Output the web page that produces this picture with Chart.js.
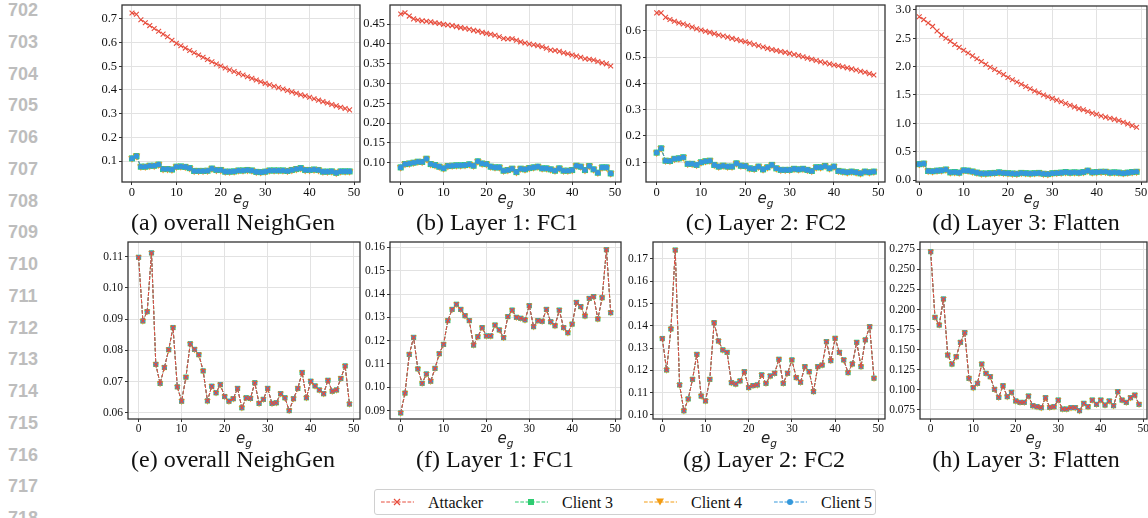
<!DOCTYPE html>
<html>
<head>
<meta charset="utf-8">
<script src="https://cdn.jsdelivr.net/npm/chart.js@4.4.1/dist/chart.umd.min.js"></script>
<style>
  body { margin: 0; width: 1148px; height: 518px; overflow: hidden; background: #fff; position: relative; font-family: "Liberation Serif", serif; }
  canvas { position: absolute; }
  .ln { position: absolute; left: 0; width: 46px; text-align: center; font: bold 18px "Liberation Sans", sans-serif; color: #bdbdbd; line-height: 20px; }
  .cap { position: absolute; font-size: 24px; color: #111; white-space: nowrap; transform: translateX(-50%); line-height: 26px; }
  .xl { position: absolute; font: italic 15px "DejaVu Sans", sans-serif; color: #222; transform: translateX(-50%); line-height: 16px; white-space: nowrap; }
  .xl sub { font-size: 10.5px; vertical-align: -4px; }
  #legend { position: absolute; left: 374px; top: 489px; width: 502px; height: 26px; border: 1px solid #d0d0d0; border-radius: 3px; box-sizing: border-box; }
  .li { position: absolute; top: 0; height: 26px; font-size: 16px; line-height: 26px; color: #111; white-space: nowrap; }
  .li svg { position: absolute; top: 7px; }
</style>
</head>
<body>
<div id="legend"></div>
<script>
// x axis
const xTickLabels = ['0', '10', '20', '30', '40', '50'];

// (a) overall NeighGen
const attackerA = [0.725, 0.720, 0.697, 0.684, 0.672, 0.660, 0.648, 0.636, 0.625, 0.610,
  0.597, 0.587, 0.577, 0.567, 0.557, 0.548, 0.538, 0.529, 0.519, 0.510,
  0.501, 0.493, 0.485, 0.478, 0.470, 0.463, 0.456, 0.449, 0.442, 0.435,
  0.428, 0.422, 0.416, 0.410, 0.404, 0.398, 0.392, 0.386, 0.380, 0.375,
  0.369, 0.363, 0.357, 0.351, 0.345, 0.339, 0.333, 0.327, 0.322, 0.316];
const clientsA = [0.111, 0.121, 0.076, 0.076, 0.080, 0.080, 0.085, 0.066, 0.066, 0.064,
  0.076, 0.077, 0.075, 0.070, 0.058, 0.058, 0.058, 0.059, 0.068, 0.062,
  0.062, 0.055, 0.055, 0.056, 0.060, 0.060, 0.062, 0.060, 0.054, 0.053,
  0.055, 0.060, 0.060, 0.060, 0.060, 0.058, 0.062, 0.066, 0.070, 0.062,
  0.062, 0.064, 0.062, 0.055, 0.055, 0.056, 0.050, 0.056, 0.056, 0.056];
const yTicksA = ['0.1', '0.2', '0.3', '0.4', '0.5', '0.6', '0.7'];

// (b) Layer 1: FC1
const attackerB = [0.4752, 0.4786, 0.4700, 0.4630, 0.4600, 0.4580, 0.4570, 0.4555, 0.4530, 0.4515,
  0.4490, 0.4475, 0.4460, 0.4435, 0.4410, 0.4390, 0.4370, 0.4340, 0.4320, 0.4290,
  0.4264, 0.4240, 0.4215, 0.4180, 0.4135, 0.4120, 0.4130, 0.4090, 0.4050, 0.4020,
  0.3995, 0.3975, 0.3955, 0.3925, 0.3890, 0.3844, 0.3830, 0.3810, 0.3775, 0.3750,
  0.3718, 0.3690, 0.3660, 0.3625, 0.3610, 0.3590, 0.3555, 0.3520, 0.3495, 0.3440];
const clientsB = [0.0882, 0.0966, 0.098, 0.100, 0.1025, 0.102, 0.110, 0.0966, 0.094, 0.090,
  0.0857, 0.0916, 0.0924, 0.0933, 0.0933, 0.094, 0.096, 0.0924, 0.1034, 0.098,
  0.0966, 0.090, 0.0882, 0.0882, 0.0798, 0.0815, 0.0849, 0.0764, 0.0849, 0.0832,
  0.0865, 0.0882, 0.090, 0.0857, 0.0857, 0.0832, 0.0798, 0.0857, 0.0798, 0.0798,
  0.0815, 0.0924, 0.090, 0.0815, 0.0916, 0.0832, 0.0748, 0.0882, 0.0882, 0.073];
const yTicksB = ['0.10', '0.15', '0.20', '0.25', '0.30', '0.35', '0.40', '0.45'];

// (c) Layer 2: FC2
const attackerC = [0.668, 0.668, 0.651, 0.643, 0.636, 0.630, 0.626, 0.620, 0.614, 0.608,
  0.603, 0.598, 0.594, 0.589, 0.584, 0.580, 0.576, 0.571, 0.567, 0.562,
  0.558, 0.553, 0.548, 0.543, 0.538, 0.533, 0.529, 0.525, 0.521, 0.518,
  0.514, 0.510, 0.506, 0.501, 0.496, 0.492, 0.487, 0.482, 0.478, 0.474,
  0.470, 0.467, 0.463, 0.459, 0.455, 0.451, 0.446, 0.442, 0.437, 0.432];
const clientsC = [0.1367, 0.153, 0.106, 0.105, 0.113, 0.115, 0.119, 0.094, 0.094, 0.090,
  0.100, 0.104, 0.106, 0.090, 0.0835, 0.087, 0.0835, 0.0835, 0.096, 0.087,
  0.086, 0.077, 0.075, 0.0835, 0.073, 0.081, 0.090, 0.077, 0.071, 0.071,
  0.071, 0.075, 0.073, 0.075, 0.071, 0.067, 0.081, 0.081, 0.086, 0.077,
  0.0835, 0.067, 0.0645, 0.062, 0.0645, 0.062, 0.058, 0.0645, 0.062, 0.0645];
const yTicksC = ['0.1', '0.2', '0.3', '0.4', '0.5', '0.6'];

// (d) Layer 3: Flatten
const attackerD = [2.88, 2.83, 2.77, 2.71, 2.63, 2.56, 2.50, 2.45, 2.39, 2.34,
  2.29, 2.24, 2.19, 2.14, 2.09, 2.04, 1.99, 1.95, 1.90, 1.86,
  1.81, 1.77, 1.73, 1.69, 1.65, 1.61, 1.57, 1.54, 1.50, 1.47,
  1.44, 1.41, 1.38, 1.35, 1.32, 1.29, 1.26, 1.24, 1.21, 1.18,
  1.16, 1.13, 1.11, 1.09, 1.07, 1.05, 1.02, 0.99, 0.96, 0.93];
const clientsD = [0.28, 0.29, 0.16, 0.155, 0.165, 0.17, 0.185, 0.135, 0.14, 0.13,
  0.17, 0.165, 0.15, 0.13, 0.115, 0.115, 0.12, 0.125, 0.135, 0.125,
  0.12, 0.115, 0.11, 0.125, 0.12, 0.115, 0.12, 0.125, 0.11, 0.105,
  0.12, 0.125, 0.13, 0.14, 0.13, 0.135, 0.13, 0.14, 0.165, 0.135,
  0.14, 0.145, 0.145, 0.13, 0.135, 0.13, 0.12, 0.13, 0.14, 0.145];
const yTicksD = ['0.0', '0.5', '1.0', '1.5', '2.0', '2.5', '3.0'];

// (e) overall NeighGen, all four series coincide
const valuesE = [0.1098, 0.0894, 0.0924, 0.1112, 0.0755, 0.0694, 0.0745, 0.0802, 0.0873, 0.0683,
  0.0637, 0.0714, 0.0821, 0.0803, 0.0786, 0.0734, 0.0638, 0.0685, 0.0664, 0.0690,
  0.0652, 0.0637, 0.0645, 0.0678, 0.0616, 0.0648, 0.0646, 0.0696, 0.0630, 0.0643,
  0.0678, 0.0630, 0.0632, 0.0661, 0.0648, 0.0607, 0.0645, 0.0678, 0.0729, 0.0648,
  0.0701, 0.0686, 0.0673, 0.0661, 0.0704, 0.0669, 0.0673, 0.0710, 0.0750, 0.0628];
const yTicksE = ['0.06', '0.07', '0.08', '0.09', '0.10', '0.11'];

// (f) Layer 1: FC1
const valuesF = [0.0890, 0.0975, 0.1141, 0.1214, 0.1079, 0.1017, 0.1057, 0.1026, 0.1081, 0.1144,
  0.1184, 0.1286, 0.1334, 0.1356, 0.1334, 0.1307, 0.1286, 0.1181, 0.1217, 0.1256,
  0.1220, 0.1220, 0.1267, 0.1246, 0.1213, 0.1303, 0.1331, 0.1300, 0.1296, 0.1289,
  0.1350, 0.1260, 0.1286, 0.1283, 0.1334, 0.1281, 0.1264, 0.1331, 0.1256, 0.1234,
  0.1271, 0.1364, 0.1346, 0.1306, 0.1381, 0.1389, 0.1293, 0.1384, 0.1590, 0.1320];
const yTicksF = ['0.09', '0.10', '0.11', '0.12', '0.13', '0.14', '0.15', '0.16'];

// (g) Layer 2: FC2
const valuesG = [0.1343, 0.1202, 0.1386, 0.1740, 0.1135, 0.1019, 0.1072, 0.1160, 0.1272, 0.1085,
  0.1063, 0.1160, 0.1414, 0.1332, 0.1292, 0.1281, 0.1145, 0.1139, 0.1153, 0.1194,
  0.1123, 0.1132, 0.1135, 0.1180, 0.1142, 0.1175, 0.1187, 0.1250, 0.1142, 0.1187,
  0.1247, 0.1168, 0.1147, 0.1217, 0.1194, 0.1105, 0.1217, 0.1224, 0.1329, 0.1244,
  0.1344, 0.1281, 0.1247, 0.1190, 0.1229, 0.1326, 0.1217, 0.1337, 0.1396, 0.1165];
const yTicksG = ['0.10', '0.11', '0.12', '0.13', '0.14', '0.15', '0.16', '0.17'];

// (h) Layer 3: Flatten
const valuesH = [0.2720, 0.1903, 0.1807, 0.2131, 0.1434, 0.1322, 0.1413, 0.1592, 0.1712, 0.1144,
  0.1028, 0.1082, 0.1322, 0.1206, 0.1164, 0.1007, 0.0907, 0.1052, 0.0916, 0.0970,
  0.0862, 0.0845, 0.0845, 0.0924, 0.0804, 0.0791, 0.0779, 0.0903, 0.0783, 0.0791,
  0.0874, 0.0762, 0.0762, 0.0779, 0.0779, 0.0742, 0.0833, 0.0791, 0.0874, 0.0820,
  0.0874, 0.0812, 0.0862, 0.0804, 0.0978, 0.0874, 0.0845, 0.0903, 0.0936, 0.0820];
const yTicksH = ['0.075', '0.100', '0.125', '0.150', '0.175', '0.200', '0.225', '0.250', '0.275'];

const RED = '#e74c3c', GREEN = '#2ecc71', ORANGE = '#f39c12', BLUE = '#3498db';

// plot-area boxes in page pixels
const panels = [
  { L: 122, R: 360, T: 5, B: 182, xMin: -2.25, xMax: 51.35, yMin: 0.0113, yMax: 0.759, yTicks: yTicksA, att: attackerA, cli: clientsA, cap: '(a) overall NeighGen', capX: 233, top: true },
  { L: 390, R: 621, T: 5, B: 182, xMin: -2.5, xMax: 51.4, yMin: 0.0513, yMax: 0.498, yTicks: yTicksB, att: attackerB, cli: clientsB, cap: '(b) Layer 1: FC1', capX: 497, top: true },
  { L: 646, R: 885, T: 5, B: 182, xMin: -2.41, xMax: 51.52, yMin: 0.025, yMax: 0.698, yTicks: yTicksC, att: attackerC, cli: clientsC, cap: '(c) Layer 2: FC2', capX: 766, top: true },
  { L: 916, R: 1147, T: 6, B: 182, xMin: -0.74, xMax: 51.35, yMin: -0.035, yMax: 3.07, yTicks: yTicksD, att: attackerD, cli: clientsD, cap: '(d) Layer 3: Flatten', capX: 1026, top: true },
  { L: 128, R: 360, T: 242, B: 419, xMin: -2.46, xMax: 51.45, yMin: 0.058, yMax: 0.1147, yTicks: yTicksE, att: valuesE, cli: valuesE, cap: '(e) overall NeighGen', capX: 233, top: false },
  { L: 390, R: 621, T: 242, B: 419, xMin: -2.5, xMax: 51.4, yMin: 0.0864, yMax: 0.1623, yTicks: yTicksF, att: valuesF, cli: valuesF, cap: '(f) Layer 1: FC1', capX: 495, top: false },
  { L: 653, R: 885, T: 242, B: 419, xMin: -2.15, xMax: 51.55, yMin: 0.0982, yMax: 0.1776, yTicks: yTicksG, att: valuesG, cli: valuesG, cap: '(g) Layer 2: FC2', capX: 764, top: false },
  { L: 920, R: 1147, T: 242, B: 419, xMin: -2.52, xMax: 50.87, yMin: 0.0638, yMax: 0.284, yTicks: yTicksH, att: valuesH, cli: valuesH, cap: '(h) Layer 3: Flatten', capX: 1026, top: false },
];

const frame = {
  id: 'frame',
  afterDatasetsDraw(chart) {
    const { ctx, chartArea: a } = chart;
    ctx.save();
    ctx.strokeStyle = '#333';
    ctx.lineWidth = 1.3;
    ctx.strokeRect(a.left, a.top, a.right - a.left, a.bottom - a.top);
    ctx.restore();
  }
};

function series(label, values, color, style, radius, order, rotation) {
  return {
    label,
    data: values.map((y, i) => ({ x: i, y })),
    borderColor: color,
    backgroundColor: color,
    borderWidth: 1,
    borderDash: [3.7, 1.6],
    pointStyle: style,
    pointRadius: radius,
    pointBorderWidth: style === 'crossRot' ? 1.1 : 0,
    pointRotation: rotation || 0,
    order,
  };
}

const Y_W = 45, X_H = 28, PAD_T = 12, PAD_R = 12;

panels.forEach(p => {
  const c = document.createElement('canvas');
  const w = p.R - p.L + Y_W + PAD_R, h = p.B - p.T + PAD_T + X_H;
  c.width = w; c.height = h;
  c.style.left = (p.L - Y_W) + 'px';
  c.style.top = (p.T - PAD_T) + 'px';
  c.style.width = w + 'px'; c.style.height = h + 'px';
  document.body.appendChild(c);

  const fs = p.top ? 12.5 : 11.5;
  const m = p.top ? 1 : 0.85;
  const tickFont = { family: '"Liberation Serif", serif', size: fs };
  const grid = { color: '#e2e2e2', lineWidth: 1, tickLength: 3, tickColor: '#333', drawTicks: true };

  new Chart(c, {
    type: 'line',
    data: {
      datasets: [
        series('Attacker', p.att, RED, 'crossRot', 3.4 * m, 0),
        series('Client 3', p.cli, GREEN, 'rect', 4.3 * m, 3),
        series('Client 4', p.cli, ORANGE, 'triangle', 4.4 * m, 2, 180),
        series('Client 5', p.cli, BLUE, 'circle', 2.8 * m, 1),
      ]
    },
    options: {
      responsive: false,
      animation: false,
      devicePixelRatio: 1,
      layout: { padding: { top: PAD_T, right: PAD_R, left: 0, bottom: 0 } },
      plugins: { legend: { display: false }, tooltip: { enabled: false } },
      scales: {
        x: {
          type: 'linear', min: p.xMin, max: p.xMax,
          afterBuildTicks: s => { s.ticks = xTickLabels.map(t => ({ value: parseFloat(t) })); },
          afterFit: s => { s.height = X_H; },
          grid, border: { display: false },
          ticks: { color: '#111', font: tickFont, padding: 0, maxRotation: 0, autoSkip: false, callback: (v, i) => xTickLabels[i] },
        },
        y: {
          type: 'linear', min: p.yMin, max: p.yMax,
          afterBuildTicks: s => { s.ticks = p.yTicks.map(t => ({ value: parseFloat(t) })); },
          afterFit: s => { s.width = Y_W; },
          grid, border: { display: false },
          ticks: { color: '#111', font: tickFont, padding: 2, autoSkip: false, callback: (v, i) => p.yTicks[i] },
        },
      },
    },
    plugins: [frame],
  });

  const cap = document.createElement('div');
  cap.className = 'cap';
  cap.textContent = p.cap;
  cap.style.left = p.capX + 'px';
  cap.style.top = (p.B + 27) + 'px';
  document.body.appendChild(cap);

  const xl = document.createElement('div');
  xl.className = 'xl';
  xl.innerHTML = '<i>e</i><sub>g</sub>';
  xl.style.left = ((p.L + p.R) / 2) + 'px';
  xl.style.top = (p.B + (p.top ? 8 : 11)) + 'px';
  document.body.appendChild(xl);
});

// line numbers in the page margin
for (let i = 0; i <= 16; i++) {
  const d = document.createElement('div');
  d.className = 'ln';
  d.textContent = String(702 + i);
  d.style.top = (31.75 * i) + 'px';
  document.body.appendChild(d);
}

// shared legend
const legendItems = [
  { label: 'Attacker', x: 6, color: RED, mark: '<path d="M13,2 L19,8 M19,2 L13,8" stroke-width="1.2"/>' },
  { label: 'Client 3', x: 140, color: GREEN, mark: '<rect x="13" y="2" width="6" height="6" stroke="none"/>' },
  { label: 'Client 4', x: 269, color: ORANGE, mark: '<path d="M12,1.5 L20,1.5 L16,8.5 Z" stroke="none"/>' },
  { label: 'Client 5', x: 399, color: BLUE, mark: '<circle cx="16" cy="5" r="3" stroke="none"/>' },
];
const lg = document.getElementById('legend');
legendItems.forEach(it => {
  const el = document.createElement('div');
  el.className = 'li';
  el.style.left = it.x + 'px';
  el.innerHTML = '<svg width="33" height="10" style="left:0" fill="' + it.color + '" stroke="' + it.color + '">' +
    '<line x1="0" y1="5" x2="33" y2="5" stroke-width="1" stroke-dasharray="3.7 1.6"/>' + it.mark + '</svg>' +
    '<span style="position:absolute;left:47px">' + it.label + '</span>';
  lg.appendChild(el);
});
</script>
</body>
</html>
